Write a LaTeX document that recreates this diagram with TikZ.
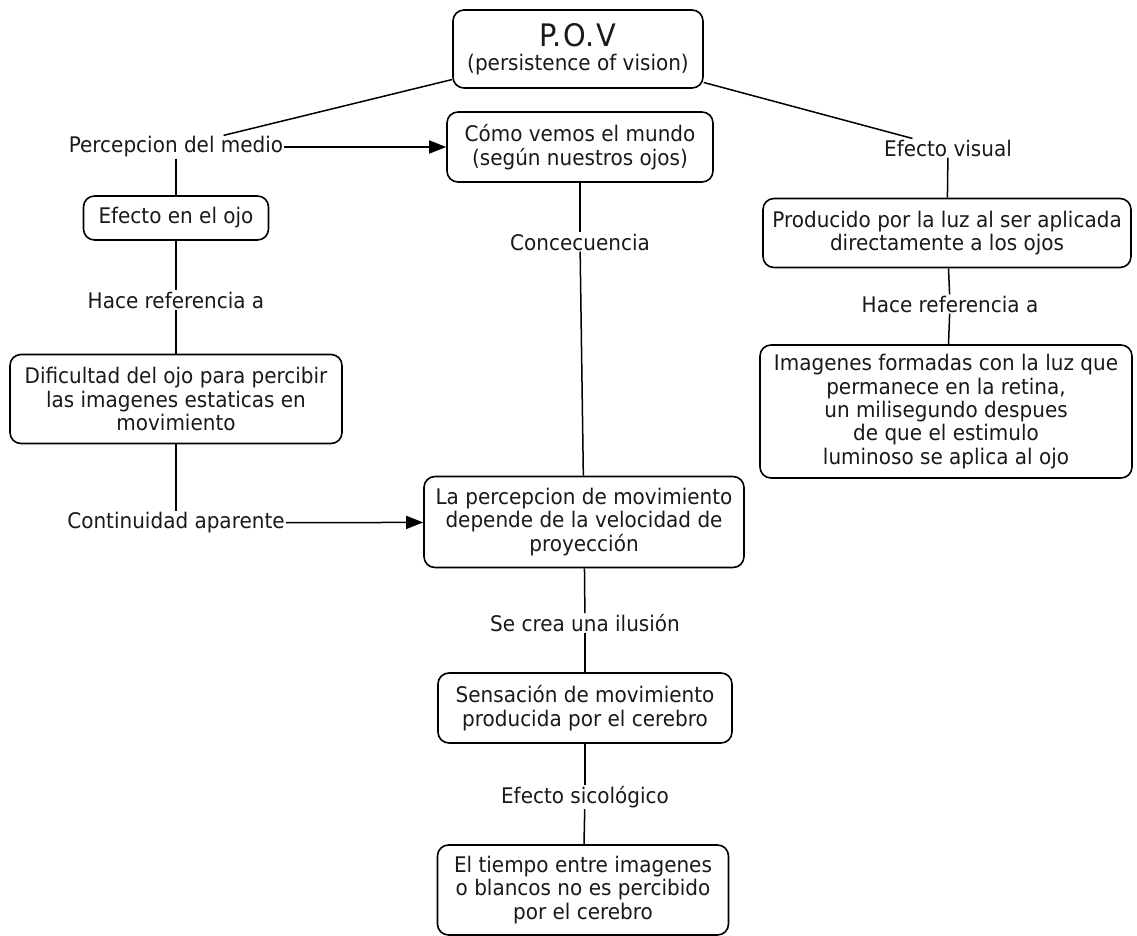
\documentclass[tikz,border=0pt]{standalone}
\usepackage{fontspec}
\setmainfont{DejaVu Sans}[FakeStretch=0.93]
\usetikzlibrary{arrows.meta}
\begin{document}
\begin{tikzpicture}[x=1pt,y=-1pt,
  txt/.style={font=\fontsize{21.5}{23.3}\selectfont, text=black!90},
  box/.style={txt, draw, line width=1.6pt, rounded corners=11pt, align=center, inner sep=0pt},
  lbl/.style={txt, inner sep=1pt},
  conn/.style={line width=1.5pt},
  arr/.style={conn, -{Triangle[length=17pt,width=13pt]}}]
\useasboundingbox (0,0) rectangle (1137,936);

% concept boxes
\node[box, minimum width=250pt, minimum height=78pt] (pov) at (578,49)
  {{\fontsize{31}{31}\selectfont P.\kern2pt O.\kern2pt V}\\[1pt](persistence of vision)};
\node[box, minimum width=266pt, minimum height=70pt] (como) at (580,147)
  {Cómo vemos el mundo\\(según nuestros ojos)};
\node[box, minimum width=185pt, minimum height=44pt] (ojo) at (176,218)
  {Efecto en el ojo};
\node[box, minimum width=332pt, minimum height=89pt] (dif) at (176,399)
  {Dificultad del ojo para percibir\\las imagenes estaticas en\\movimiento};
\node[box, minimum width=320pt, minimum height=91pt] (perc) at (584,522)
  {La percepcion de movimiento\\depende de la velocidad de\\proyección};
\node[box, minimum width=294pt, minimum height=70pt] (sens) at (585,708)
  {Sensación de movimiento\\producida por el cerebro};
\node[box, minimum width=291pt, minimum height=90pt] (tiempo) at (583,890)
  {El tiempo entre imagenes\\o blancos no es percibido\\por el cerebro};
\node[box, minimum width=368pt, minimum height=69pt] (prod) at (947,233)
  {Producido por la luz al ser aplicada\\directamente a los ojos};
\node[box, minimum width=372pt, minimum height=133pt] (imag) at (946,411.5)
  {Imagenes formadas con la luz que\\permanece en la retina,\\un milisegundo despues\\de que el estimulo\\luminoso se aplica al ojo};

% linking phrases
\node[lbl] (l1) at (176,147) {Percepcion del medio};
\node[lbl] (l2) at (176,300) {Hace referencia a};
\node[lbl] (l3) at (176,523) {Continuidad aparente};
\node[lbl] (l4) at (580,242) {Concecuencia};
\node[lbl] (l5) at (948,148) {Efecto visual};
\node[lbl] (l6) at (950,304) {Hace referencia a};
\node[lbl] (l7) at (585,623) {Se crea una ilusión};
\node[lbl] (l8) at (585,797) {Efecto sicológico};

% connectors
\draw[conn] (pov) -- (l1);
\draw[arr] (l1) -- (como);
\draw[conn] (l1) -- (ojo);
\draw[conn] (ojo) -- (l2);
\draw[conn] (l2) -- (dif);
\draw[conn] (dif) -- (l3);
\draw[arr] (l3) -- (perc);
\draw[conn] (como) -- (l4);
\draw[conn] (l4) -- (perc);
\draw[conn] (perc) -- (l7);
\draw[conn] (l7) -- (sens);
\draw[conn] (sens) -- (l8);
\draw[conn] (l8) -- (tiempo);
\draw[conn] (pov) -- (l5);
\draw[conn] (l5) -- (prod);
\draw[conn] (prod) -- (l6);
\draw[conn] (l6) -- (imag);
\end{tikzpicture}
\end{document}
